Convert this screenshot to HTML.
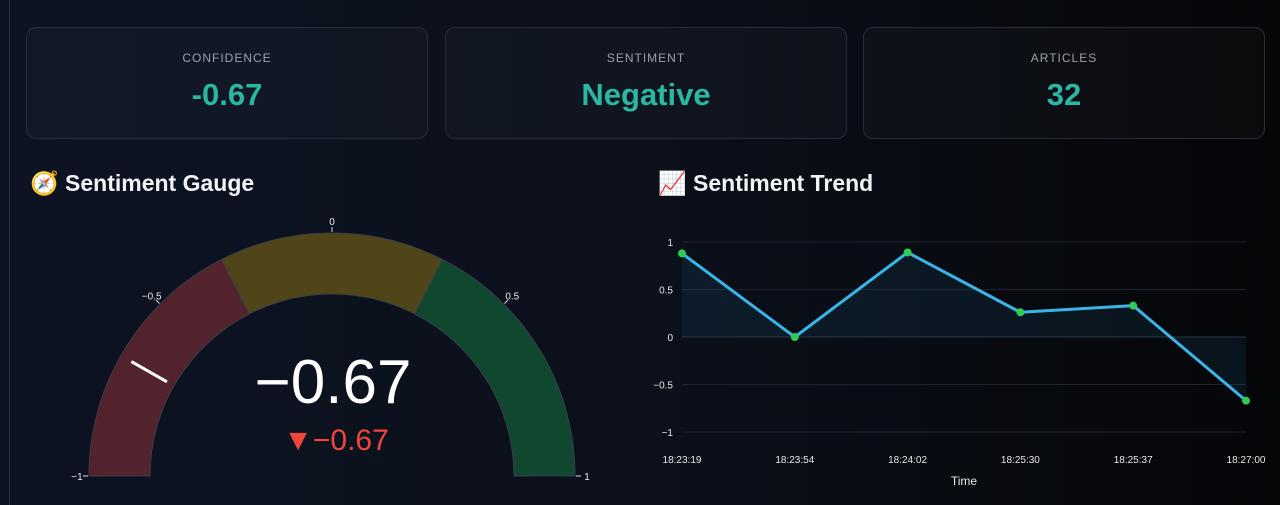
<!DOCTYPE html>
<html><head><meta charset="utf-8">
<style>
html,body{margin:0;padding:0;width:1280px;height:505px;overflow:hidden;font-family:"Liberation Sans",sans-serif;}
body{background:linear-gradient(90deg,#0d1322 0%,#0b101b 50%,#050608 100%);position:relative;}
.vline{position:absolute;left:9px;top:0;width:1px;height:505px;background:#232a38;}
.card{position:absolute;top:27px;height:112px;width:402px;border:1px solid #262d3b;border-radius:10px;background:rgba(255,255,255,0.025);box-sizing:border-box;text-align:center;}
.lbl{margin-top:23px;font-size:12px;letter-spacing:1px;color:#9aa1ad;}
.val{margin-top:12px;font-size:31px;font-weight:bold;color:#2bb8a3;}
.title{position:absolute;top:170px;font-size:23px;font-weight:bold;color:#f2f3f5;}
svg{position:absolute;left:0;top:0;}
</style></head><body>
<div class="vline"></div>
<div class="card" style="left:26px"><div class="lbl">CONFIDENCE</div><div class="val">-0.67</div></div>
<div class="card" style="left:445px"><div class="lbl">SENTIMENT</div><div class="val">Negative</div></div>
<div class="card" style="left:863px"><div class="lbl">ARTICLES</div><div class="val">32</div></div>
<div class="title" style="left:30px">🧭 Sentiment Gauge</div>
<div class="title" style="left:658px">📈 Sentiment Trend</div>
<svg id="gauge" width="640" height="505"></svg>
<svg id="trend" width="1280" height="505" style="left:0"></svg>
<script>
const gaugeValue = -0.67;
const gaugeDelta = -0.67;
const gaugeBands = [-1, -0.3, 0.3, 1];
const gaugeColors = ['#52222d', '#4f4519', '#10472f'];
const gaugeTicks = [-1, -0.5, 0, 0.5, 1];
const gaugeTickLabels = ['−1', '−0.5', '0', '0.5', '1'];

const categories = ['18:23:19','18:23:54','18:24:02','18:25:30','18:25:37','18:27:00'];
const sentimentValues = [0.88, 0, 0.89, 0.26, 0.33, -0.67];
const yTicks = [1, 0.5, 0, -0.5, -1];
const yTickLabels = ['1','0.5','0','−0.5','−1'];

const NS='http://www.w3.org/2000/svg';
function mk(p,tag,attrs){const e=document.createElementNS(NS,tag);for(const k in attrs)e.setAttribute(k,attrs[k]);p.appendChild(e);return e;}

// Gauge
const g=document.getElementById('gauge');
const cx=332, cy=476, R=243, r=182;
function ang(v){return Math.PI*(1-(v+1)/2);}
function pt(v,rad){const a=ang(v);return [cx+rad*Math.cos(a), cy-rad*Math.sin(a)];}
for(let i=0;i<gaugeColors.length;i++){
  const a=gaugeBands[i], b=gaugeBands[i+1];
  const p1=pt(a,R),p2=pt(b,R),p3=pt(b,r),p4=pt(a,r);
  const e=mk(g,'path',{d:`M${p1} A${R},${R} 0 0 1 ${p2} L${p3} A${r},${r} 0 0 0 ${p4} Z`,fill:gaugeColors[i],stroke:'#3a3f48','stroke-width':1});
  
  
}
gaugeTicks.forEach((t,i)=>{
  const a=pt(t,R+1),b=pt(t,R+6),l=pt(t,R+12);
  mk(g,'line',{x1:a[0],y1:a[1],x2:b[0],y2:b[1],stroke:'#ddd','stroke-width':1});
  const tx=mk(g,'text',{x:l[0],y:l[1]+4,fill:'#e8e8e8','font-size':10,'text-anchor':'middle'});
  tx.textContent=gaugeTickLabels[i];
  
  
});
{
  const a=pt(gaugeValue,r+8),b=pt(gaugeValue,R-12);
  const ln=mk(g,'line',{x1:a[0],y1:a[1],x2:b[0],y2:b[1],stroke:'#fff','stroke-width':3});
  
  
  const t=mk(g,'text',{x:333,y:403,fill:'#fff','font-size':62,'text-anchor':'middle'});
  t.textContent=(gaugeValue<0?'−':'')+Math.abs(gaugeValue).toFixed(2);
  
  
  const d=mk(g,'text',{x:336,y:450,fill:'#f0453a','font-size':30,'text-anchor':'middle'});
  d.textContent=(gaugeDelta<0?'▼−':'▲')+Math.abs(gaugeDelta).toFixed(2);
  
  
}

// Trend
const s=document.getElementById('trend');
const x0=682,x1=1246,y0=337,yu=95;
const X=i=>x0+i*(x1-x0)/(categories.length-1);
const Y=v=>y0-v*yu;
yTicks.forEach((t,i)=>{
  mk(s,'line',{x1:x0,x2:x1,y1:Y(t),y2:Y(t),stroke:t===0?'#2a3240':'#1b2230','stroke-width':1});
  const tx=mk(s,'text',{x:673,y:Y(t)+4,fill:'#e8e8e8','font-size':10,'text-anchor':'end'});
  tx.textContent=yTickLabels[i];
  
  
});
let d='M'+X(0)+','+Y(0);
sentimentValues.forEach((v,i)=>{d+=' L'+X(i)+','+Y(v);});
d+=' L'+X(sentimentValues.length-1)+','+Y(0)+' Z';
const area=mk(s,'path',{d:d,fill:'rgba(40,150,200,0.10)'});


const line=mk(s,'polyline',{points:sentimentValues.map((v,i)=>X(i)+','+Y(v)).join(' '),fill:'none',stroke:'#3bb4e8','stroke-width':3,'stroke-linejoin':'round'});


sentimentValues.forEach((v,i)=>{
  const c=mk(s,'circle',{cx:X(i),cy:Y(v),r:4,fill:'#2fcb55'});
  
  
});
categories.forEach((c,i)=>{
  const tx=mk(s,'text',{x:X(i),y:463,fill:'#e8e8e8','font-size':10,'text-anchor':'middle'});
  tx.textContent=c;
  
  
});
const xt=mk(s,'text',{x:964,y:485,fill:'#e8e8e8','font-size':12,'text-anchor':'middle'});
xt.textContent='Time';


</script>
</body></html>
